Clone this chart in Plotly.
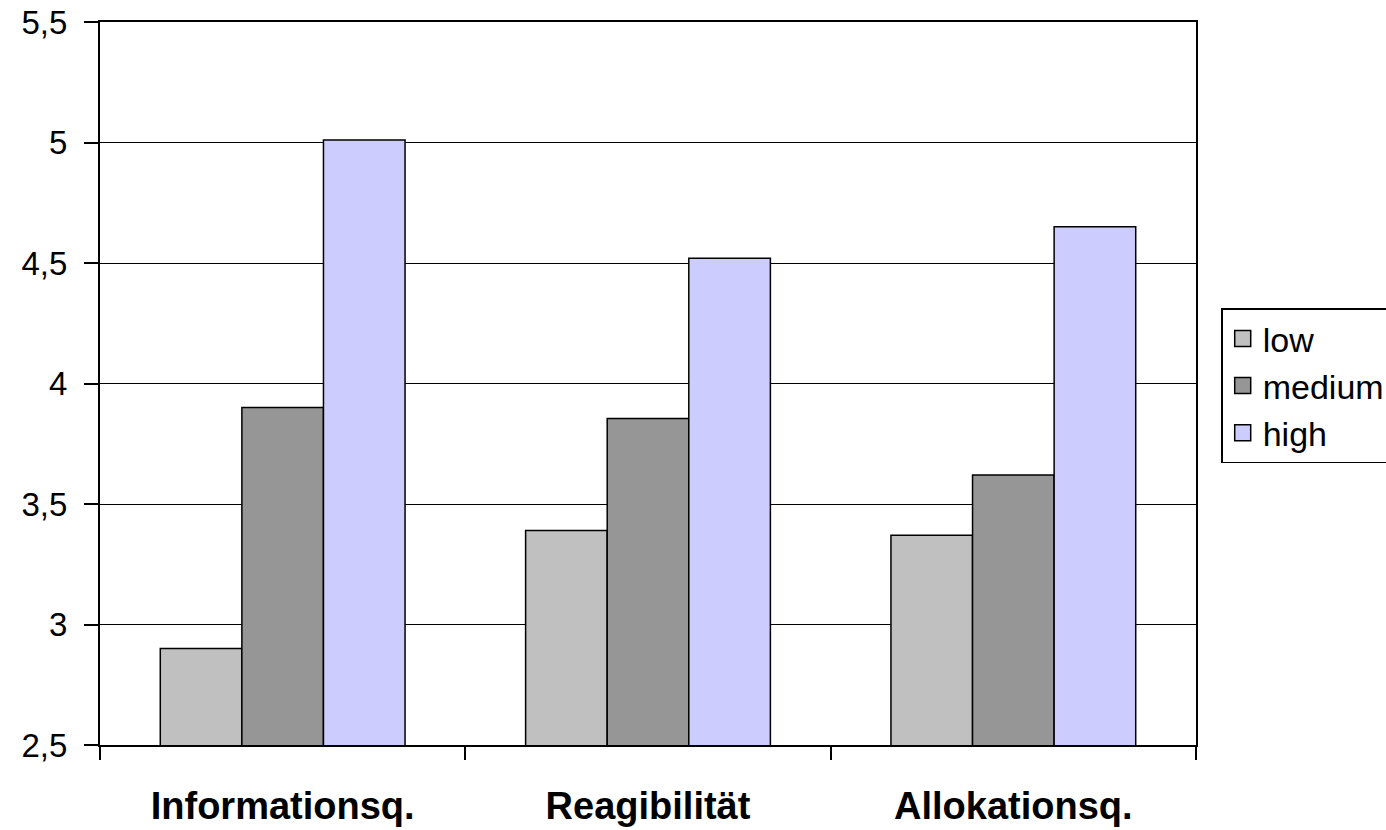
import plotly.graph_objects as go

# Mean scores per dimension and group
categories = ["Informationsq.", "Reagibilität", "Allokationsq."]
series_names = ["low", "medium", "high"]
low_values = [2.90, 3.39, 3.37]
medium_values = [3.90, 3.855, 3.62]
high_values = [5.01, 4.52, 4.65]
y_ticks = [2.5, 3, 3.5, 4, 4.5, 5, 5.5]

colors = {"low": "#C0C0C0", "medium": "#969696", "high": "#CCCCFF"}
values = {"low": low_values, "medium": medium_values, "high": high_values}

fig = go.Figure()
for name in series_names:
    fig.add_trace(go.Bar(
        x=categories, y=values[name], name=name,
        marker=dict(color=colors[name], line=dict(color="black", width=1.5)),
        showlegend=False,
    ))

# Legend entries with larger square swatches
for name in series_names:
    fig.add_trace(go.Scatter(
        x=[None], y=[None], mode="markers", name=name,
        marker=dict(symbol="square", size=20, color=colors[name],
                    line=dict(color="black", width=1.5)),
    ))

fig.update_layout(
    width=1386, height=830,
    margin=dict(l=100, r=190, t=22, b=85, autoexpand=False),
    paper_bgcolor="white", plot_bgcolor="white",
    separators=",.",
    font=dict(family="Arial, Liberation Sans, sans-serif", color="black"),
    barmode="group", bargap=0.33, bargroupgap=0,
    showlegend=True,
    legend=dict(
        x=1.023, y=0.604, xanchor="left", yanchor="top",
        bordercolor="black", borderwidth=1.5, bgcolor="white",
        font=dict(size=34, color="black"),
        tracegroupgap=0, itemwidth=30,
    ),
    xaxis=dict(
        type="category", tickson="boundaries",
        ticks="outside", ticklen=13, tickwidth=1.5, tickcolor="black",
        showline=True, linecolor="black", linewidth=2, mirror=True,
        showgrid=False,
        tickfont=dict(size=38, color="black", family="Arial, Liberation Sans, sans-serif", weight="bold"),
        ticklabelstandoff=26,
    ),
    yaxis=dict(
        range=[2.5, 5.5], tickvals=y_ticks,
        ticks="outside", ticklen=14, tickwidth=1.5, tickcolor="black",
        showline=True, linecolor="black", linewidth=2, mirror=True,
        showgrid=True, gridcolor="black", gridwidth=1.4,
        zeroline=False,
        tickfont=dict(size=33, color="black"),
        ticklabelstandoff=10,
    ),
)

fig.write_html("out.html")
